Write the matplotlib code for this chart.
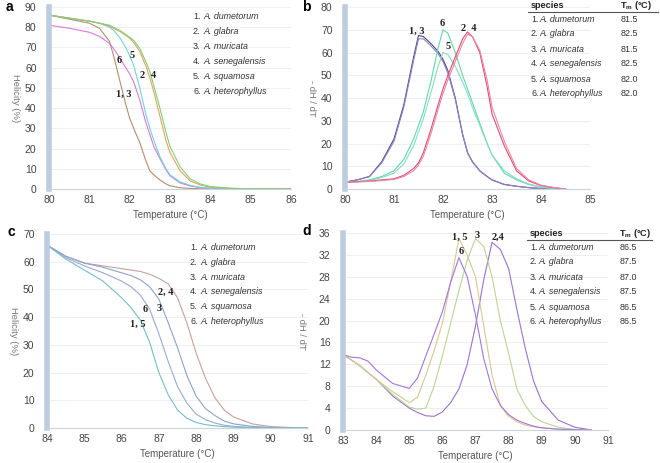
import matplotlib
matplotlib.use("Agg")
import matplotlib.pyplot as plt

plt.rcParams['font.family'] = ['Liberation Sans', 'DejaVu Sans']

# panel a: helicity, first region
a_temp = [80, 80.5, 81, 81.25, 81.5, 81.6, 81.75, 81.9, 82, 82.1, 82.25, 82.4,
          82.5, 82.6, 82.75, 82.9, 83, 83.25, 83.5, 83.75, 84, 84.5, 85, 86]
a_sp13 = [86, 84, 82, 79.5, 73, 66, 54, 42, 35, 30, 23, 14,
          9, 7, 4.5, 2.5, 1.6, 0.6, 0.3, 0.1, 0, 0, 0, 0]
a_sp6 = [81, 79.5, 77.5, 75.5, 72, 69.5, 65, 60, 57, 53, 44, 33,
         27, 21, 15, 9.5, 6.5, 3, 1.5, 0.7, 0.3, 0.1, 0, 0]
a_sp5 = [86, 84.5, 83, 82, 80, 78.5, 75, 70, 66, 61, 50, 37,
         30, 24, 16, 10, 7, 3.5, 1.8, 0.8, 0.4, 0.1, 0, 0]
a_sp2 = [86, 84.5, 83, 82, 80.5, 79.5, 78, 76, 74.5, 72.5, 68, 61,
         55, 48, 36, 24, 18, 9, 4, 2, 0.9, 0.3, 0.1, 0]
a_sp4 = [86, 84.5, 83, 82, 81, 80, 78.5, 76.5, 75, 73.5, 69.5, 63,
         58, 51, 40, 28, 21, 11, 5, 2.5, 1.2, 0.4, 0.1, 0]

# panel b: -dH/dT, first region
b_temp = [80, 80.25, 80.5, 80.75, 81, 81.2, 81.4, 81.5, 81.6, 81.75, 81.9, 82, 82.1,
          82.25, 82.4, 82.5, 82.6, 82.75, 82.9, 83, 83.25, 83.5, 83.75, 84, 84.25, 84.5]
b_sp1 = [3, 4, 5.5, 12, 22, 37, 58, 67.5, 67, 64, 60.5, 57, 52,
         40, 24, 16, 12, 8, 5.5, 4, 2, 1.2, 0.6, 0.2, 0.1, 0]
b_sp3 = [3, 4, 5.5, 11.5, 21, 36, 56.5, 66, 66, 63, 59.5, 56, 51,
         39.5, 24, 16, 12, 8, 5.5, 4, 2, 1.2, 0.6, 0.2, 0.1, 0]
b_sp6 = [3, 3.3, 4, 5.5, 8, 13, 22, 28, 34, 47, 62, 70, 68.5,
         60, 50, 44, 38, 29, 20, 15, 7, 4, 2, 0.8, 0.3, 0]
b_sp5 = [3, 3.2, 3.7, 5, 7, 11, 19, 25, 31, 42, 54, 60, 59,
         54, 47, 42, 36, 28, 20, 15, 8, 4.5, 2.2, 0.9, 0.3, 0]
b_sp2 = [3, 3.2, 3.5, 4, 4.5, 6, 9, 11.5, 16, 26, 37, 44, 50,
         58, 66, 69, 67, 60, 45, 33, 19, 8, 3.5, 1.5, 0.6, 0]
b_sp4 = [3, 3.1, 3.3, 3.7, 4.2, 5.5, 8, 10.5, 14.5, 24, 35, 42, 48,
         56, 64, 68, 67, 61, 48, 36, 21, 9, 4, 1.7, 0.7, 0]

# panel c: helicity, second region
c_temp = [84, 84.5, 85, 85.5, 86, 86.25, 86.5, 86.75, 87, 87.25, 87.5,
          87.75, 88, 88.25, 88.5, 88.75, 89, 89.5, 90, 90.5, 91]
c_sp15 = [66, 61, 57, 53, 47, 43.5, 39, 31, 20, 12, 6.5,
          3.5, 2, 1.2, 0.8, 0.5, 0.3, 0.1, 0, 0, 0]
c_sp6 = [66, 61.5, 58.5, 56, 53, 51, 48, 43, 34, 24, 15,
         9, 5, 3, 1.8, 1, 0.6, 0.2, 0, 0, 0]
c_sp3 = [66, 62, 59.5, 58, 56, 55, 53.5, 51, 46.5, 38, 29,
         19, 11.5, 7, 4.5, 2.5, 1.5, 0.6, 0.2, 0, 0]
c_sp24 = [66, 62, 59.5, 58.5, 57.5, 57, 56.5, 55.5, 54, 52, 47,
          38, 27, 18, 11, 6.5, 4, 1.5, 0.5, 0.2, 0]

# panel d: -dH/dT, second region
d_temp = [83, 83.25, 83.5, 83.75, 84, 84.5, 85, 85.25, 85.5, 85.75, 86, 86.25, 86.5,
          86.75, 87, 87.25, 87.5, 87.75, 88, 88.25, 88.5, 88.75, 89, 89.5, 90, 90.5]
d_sp6 = [13.8, 13.3, 13.2, 12.6, 11, 8.5, 7.6, 9.5, 13.5, 17.5, 21.6, 27, 31.5,
         28, 21, 13, 7.5, 4.5, 2.8, 1.8, 1.2, 0.7, 0.4, 0.15, 0.05, 0]
d_sp15 = [13.8, 12.8, 11.8, 10.5, 9.3, 7, 5, 6, 10, 14.5, 19.5, 27, 35,
          32, 28, 19, 10, 4.5, 2.5, 1.5, 0.9, 0.6, 0.4, 0.15, 0.05, 0]
d_sp3 = [13.8, 12.8, 11.8, 10.5, 9.3, 6.5, 4.2, 3.8, 4, 8, 13.5, 19.5, 25.5,
         31, 35, 33.5, 28, 20, 14, 7.5, 4.5, 2.5, 1.5, 0.5, 0.1, 0]
d_sp24 = [13.8, 12.8, 11.8, 10.5, 9.3, 6.2, 4, 3.2, 2.6, 2.5, 3.3, 5, 7.5,
          12, 19, 27.5, 34.3, 33, 29.5, 22, 15, 9, 5.2, 1.8, 0.5, 0]

species = ["A. dumetorum", "A. glabra", "A. muricata",
           "A. senegalensis", "A. squamosa", "A. heterophyllus"]
tm_b = ["81.5", "82.5", "81.5", "82.5", "82.0", "82.0"]
tm_d = ["86.5", "87.5", "87.0", "87.5", "86.5", "86.5"]

W, H = 660, 463
fig = plt.figure(figsize=(6.6, 4.63), dpi=100)


def px_ax(l, t, r, b):
    return fig.add_axes([l / W, 1 - b / H, (r - l) / W, (b - t) / H])


def ftext(x, y, s, **kw):
    fig.text(x / W, 1 - y / H, s, va="center", **kw)


def style(ax, xlim, ylim, yticks, ylabel, ylab_x):
    ax.set_xlim(*xlim)
    ax.set_ylim(*ylim)
    ax.set_yticks(yticks)
    ax.set_xticks(range(int(xlim[0]), int(xlim[1]) + 1))
    for s in ["top", "right"]:
        ax.spines[s].set_visible(False)
    ax.spines["left"].set_color("#bccde0")
    ax.spines["left"].set_linewidth(4)
    ax.spines["bottom"].set_color("#c9d3de")
    ax.spines["bottom"].set_linewidth(0.8)
    ax.grid(axis="y", color="#ececec", lw=0.6)
    ax.set_axisbelow(True)
    ax.tick_params(length=0, labelsize=7.5, colors="#444444")
    ax.tick_params(axis="y", pad=9)
    ax.tick_params(axis="x", pad=4)
    ax.set_xlabel("Temperature (°C)", fontsize=7, color="#555555", labelpad=4)
    ax.set_ylabel(ylabel, fontsize=6.8, color="#777777", rotation=270,
                  va="center", ha="center")
    ax.yaxis.set_label_coords(ylab_x, 0.5)


lab = dict(family=["Liberation Serif"], fontweight="bold", fontsize=7.5,
           ha="center", va="center", color="#222222")

# ---- a ----
ax = px_ax(49, 7, 291, 189)
ax.plot(a_temp, a_sp13, color="#b38d6e", lw=0.8)
ax.plot(a_temp, a_sp6, color="#d77bd6", lw=0.8)
ax.plot(a_temp, a_sp5, color="#70d2dc", lw=0.8)
ax.plot(a_temp, a_sp2, color="#e3a35a", lw=0.8)
ax.plot(a_temp, a_sp4, color="#82cf78", lw=0.8)
style(ax, (80, 86), (0, 90), range(0, 91, 10), "Helicity (%)", -0.14)
ax.text(81.74, 63.5, "6", **lab)
ax.text(82.06, 66, "5", **lab)
ax.text(82.31, 56, "2", **lab)
ax.text(82.58, 56, "4", **lab)
ax.text(81.86, 47, "1, 3", **lab)

# ---- b ----
ax = px_ax(345, 7, 590, 189)
ax.plot(b_temp, b_sp1, color="#4f4689", lw=0.8)
ax.plot(b_temp, b_sp3, color="#8e82c2", lw=0.8)
ax.plot(b_temp, b_sp6, color="#5fd8a9", lw=0.8)
ax.plot(b_temp, b_sp5, color="#86dcc2", lw=0.8)
ax.plot(b_temp, b_sp2, color="#de4c78", lw=0.8)
ax.plot(b_temp, b_sp4, color="#ec86a4", lw=0.8)
style(ax, (80, 85), (0, 80), range(0, 81, 10), "- dH / dT", -0.135)
ax.text(81.46, 69.4, "1, 3", **lab)
ax.text(81.99, 72.7, "6", **lab)
ax.text(82.52, 70.5, "2  4", **lab)
ax.text(82.11, 62.7, "5", **lab)

# ---- c ----
ax = px_ax(47, 234, 308, 428)
ax.plot(c_temp, c_sp24, color="#c6a09c", lw=0.8)
ax.plot(c_temp, c_sp3, color="#8ca2cc", lw=0.8)
ax.plot(c_temp, c_sp6, color="#98aad6", lw=0.8)
ax.plot(c_temp, c_sp15, color="#74bec6", lw=0.8)
style(ax, (84, 91), (0, 70), range(0, 71, 10), "Helicity (%)", -0.13)
ax.text(87.18, 49.1, "2, 4", **lab)
ax.text(86.63, 42.7, "6", **lab)
ax.text(87.01, 43.1, "3", **lab)
ax.text(86.43, 37.5, "1, 5", **lab)

# ---- d ----
ax = px_ax(343, 233, 608, 430)
ax.plot(d_temp, d_sp24, color="#9a72d2", lw=0.8)
ax.plot(d_temp, d_sp3, color="#bcd494", lw=0.8)
ax.plot(d_temp, d_sp15, color="#d6c894", lw=0.8)
ax.plot(d_temp, d_sp6, color="#a474dc", lw=0.8)
style(ax, (83, 91), (0, 36), range(0, 37, 4), "- dH / dT", -0.155)
ax.text(86.53, 35.2, "1, 5", clip_on=False, **lab)
ax.text(87.06, 35.6, "3", clip_on=False, **lab)
ax.text(87.68, 35.2, "2,4", clip_on=False, **lab)
ax.text(86.58, 32.7, "6", **lab)

# panel letters
for x, y, s in [(6, 7, "a"), (302, 7, "b"), (7, 232, "c"), (302, 231, "d")]:
    ftext(x, y, s, fontsize=10, fontweight="bold", ha="left")

# species legends in a and c
for i, name in enumerate(species):
    ftext(193, 16.7 + i * 14.9, f"{i + 1}.", fontsize=6.4, color="#333333")
    ftext(203, 16.7 + i * 14.9, name, fontsize=6.4, color="#333333", style="italic")
    ftext(190, 247.7 + i * 14.7, f"{i + 1}.", fontsize=6.4, color="#333333")
    ftext(200, 247.7 + i * 14.7, name, fontsize=6.4, color="#333333", style="italic")

# Tm tables in b and d
for top, tms, x0, x1, xv in [(6, tm_b, 528, 658, 620), (234, tm_d, 527, 652, 619)]:
    ftext(x0 + 3, top, "species", fontsize=6.6, fontweight="bold", color="#222222")
    ftext(xv, top, "T$_\\mathregular{m}$ (°C)", fontsize=6.6, fontweight="bold",
          color="#222222")
    fig.add_artist(plt.Line2D([x0 / W, x1 / W], [1 - (top + 6) / H] * 2,
                              color="#555555", lw=0.8))
    for i, name in enumerate(species):
        y = top + 13 + i * 15
        ftext(x0 + 3, y, f"{i + 1}.", fontsize=6.4, color="#333333")
        ftext(x0 + 11, y, name, fontsize=6.4, color="#333333", style="italic")
        ftext(xv + 1, y, tms[i], fontsize=6.4, color="#333333")

fig.savefig("out.png", dpi=100)
